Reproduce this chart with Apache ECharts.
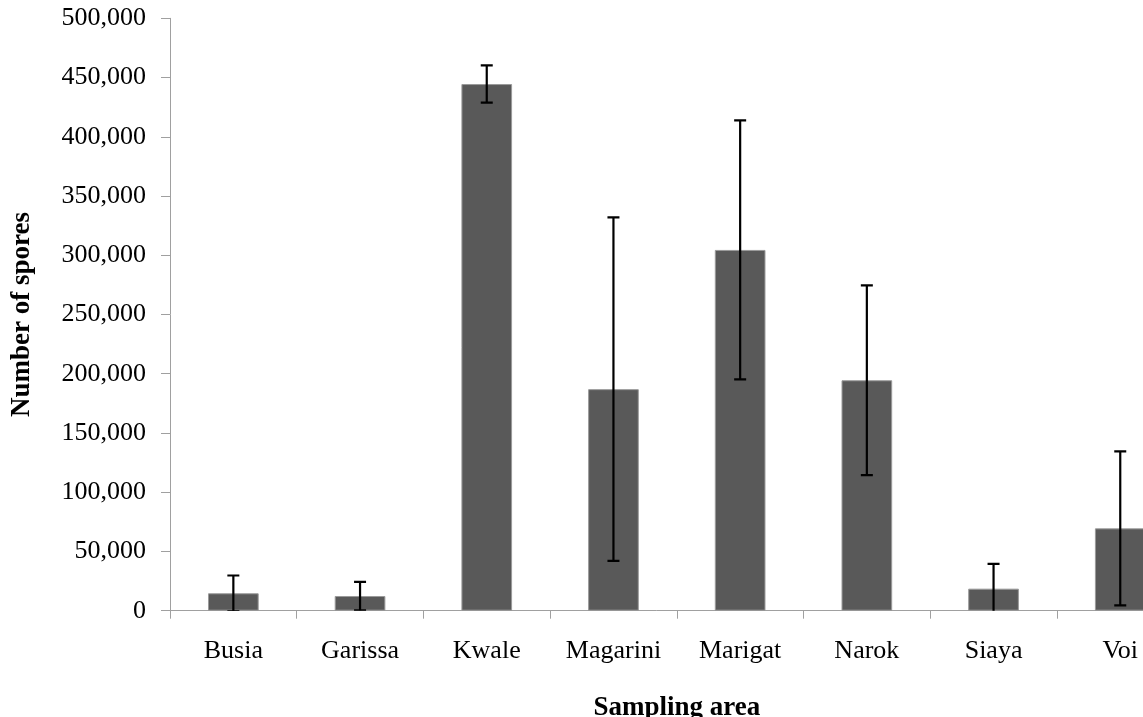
<!DOCTYPE html>
<html>
<head>
<meta charset="utf-8">
<script src="https://cdn.jsdelivr.net/npm/echarts@6/dist/echarts.min.js"></script>
<style>
html,body{margin:0;padding:0;background:#fff;}
#chart{width:1143px;height:717px;}
</style>
</head>
<body>
<div id="chart"></div>
<script>
const categories = ['Busia', 'Garissa', 'Kwale', 'Magarini', 'Marigat', 'Narok', 'Siaya', 'Voi'];
const meanSpores = [14700, 12400, 444500, 187000, 304500, 194500, 18600, 69500];
const errorSpores = [15000, 12000, 15700, 145000, 109300, 80000, 21000, 65000];
const yTicks = { min: 0, max: 500000, interval: 50000 };

const FONT = 'Liberation Serif';
const errData = categories.map((c, i) => [i, meanSpores[i] - errorSpores[i], meanSpores[i] + errorSpores[i]]);

const chart = echarts.init(document.getElementById('chart'), null, { renderer: 'canvas' });
chart.setOption({
  animation: false,
  backgroundColor: '#ffffff',
  grid: {
    left: 170, top: 18.3, width: 1013.6, height: 592.4,
    containLabel: false, outerBoundsMode: 'none'
  },
  xAxis: {
    type: 'category',
    data: categories,
    boundaryGap: true,
    axisLine: { lineStyle: { color: '#a0a0a0', width: 1 } },
    axisTick: { show: true, interval: 0, length: 8, lineStyle: { color: '#a0a0a0' } },
    axisLabel: { interval: 0, margin: 27, fontFamily: FONT, fontSize: 26, color: '#000' },
    name: 'Sampling area',
    nameLocation: 'middle',
    nameGap: 84,
    nameTextStyle: { fontFamily: FONT, fontSize: 27, fontWeight: 'bold', color: '#000' }
  },
  yAxis: {
    type: 'value',
    min: yTicks.min, max: yTicks.max, interval: yTicks.interval,
    axisLine: { show: true, lineStyle: { color: '#a0a0a0', width: 1 } },
    axisTick: { show: true, length: 9, lineStyle: { color: '#a0a0a0' } },
    splitLine: { show: false },
    axisLabel: {
      margin: 24, fontFamily: FONT, fontSize: 26, color: '#000',
      formatter: v => v.toLocaleString('en-US')
    },
    name: 'Number of spores',
    nameLocation: 'middle',
    nameGap: 134,
    nameRotate: 90,
    nameTextStyle: { fontFamily: FONT, fontSize: 27, fontWeight: 'bold', color: '#000' }
  },
  series: [
    {
      type: 'bar',
      data: meanSpores,
      barWidth: '40%',
      itemStyle: { color: '#595959', borderColor: '#9a9a9a', borderWidth: 1 }
    },
    {
      type: 'custom',
      data: errData,
      clip: true,
      z: 10,
      renderItem: function (params, api) {
        const x = api.value(0);
        const lo = api.coord([x, api.value(1)]);
        const hi = api.coord([x, api.value(2)]);
        const hw = 6;
        const style = { stroke: '#000', lineWidth: 2.2 };
        return {
          type: 'group',
          children: [
            { type: 'line', shape: { x1: hi[0], y1: hi[1], x2: lo[0], y2: lo[1] }, style },
            { type: 'line', shape: { x1: hi[0] - hw, y1: hi[1], x2: hi[0] + hw, y2: hi[1] }, style },
            { type: 'line', shape: { x1: lo[0] - hw, y1: lo[1], x2: lo[0] + hw, y2: lo[1] }, style }
          ]
        };
      }
    }
  ]
});
</script>
</body>
</html>
